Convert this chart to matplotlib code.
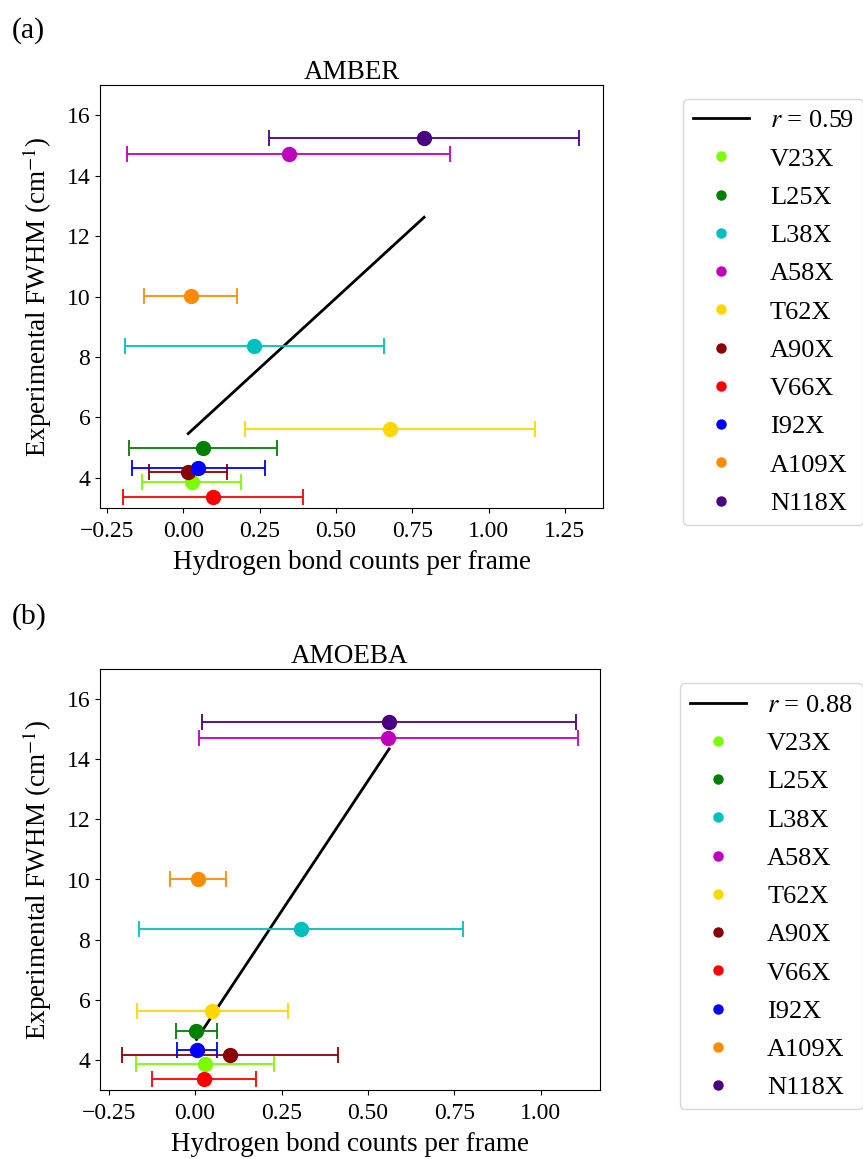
import numpy as np
import matplotlib
matplotlib.use('Agg')
import matplotlib.pyplot as plt
from matplotlib.lines import Line2D

plt.rcParams['font.family'] = ['Liberation Serif', 'DejaVu Serif']
plt.rcParams['mathtext.fontset'] = 'stix'

# Mutants, colours and experimental FWHM (shared by both panels)
mutants = ['V23X', 'L25X', 'L38X', 'A58X', 'T62X', 'A90X', 'V66X', 'I92X', 'A109X', 'N118X']
colors = ['lawngreen', 'green', 'c', 'm', 'gold', 'darkred', 'red', 'blue', 'darkorange', 'indigo']
fwhm = [3.85, 4.97, 8.35, 14.70, 5.62, 4.18, 3.38, 4.33, 10.03, 15.25]

# AMBER hydrogen bond counts per frame (mean, std)
amber_hb = [0.027, 0.064, 0.233, 0.346, 0.678, 0.016, 0.097, 0.049, 0.024, 0.789]
amber_err = [0.161, 0.242, 0.423, 0.529, 0.475, 0.128, 0.295, 0.218, 0.152, 0.507]

# AMOEBA hydrogen bond counts per frame (mean, std)
amoeba_hb = [0.028, 0.004, 0.307, 0.558, 0.050, 0.101, 0.025, 0.005, 0.007, 0.561]
amoeba_err = [0.199, 0.058, 0.469, 0.548, 0.219, 0.311, 0.151, 0.058, 0.081, 0.542]

fig = plt.figure(figsize=(8.63, 11.59), dpi=100)
W, H = 863.0, 1159.0

# axes rectangles from pixel edges
ax_a = fig.add_axes([100 / W, 1 - 508 / H, 503 / W, 423 / H])
ax_b = fig.add_axes([100 / W, 1 - 1090 / H, 500 / W, 421 / H])


def draw_panel(ax, hb, err, title, xlim, xticks, leg_anchor):
    hb = np.array(hb)
    y = np.array(fwhm)
    # least squares line + pearson r
    slope, icpt = np.polyfit(hb, y, 1)
    r = np.corrcoef(hb, y)[0, 1]
    xs = np.array([hb.min(), hb.max()])
    ax.plot(xs, slope * xs + icpt, color='black', lw=2, zorder=3)

    for i in range(len(mutants)):
        ax.errorbar(hb[i], y[i], xerr=err[i], fmt='o', color=colors[i],
                    ms=10, capsize=6, elinewidth=1.3, capthick=1.3, zorder=4)

    ax.set_xlim(*xlim)
    ax.set_ylim(3, 17)
    ax.set_xticks(xticks)
    ax.set_yticks([4, 6, 8, 10, 12, 14, 16])
    ax.tick_params(labelsize=17)
    ax.tick_params(axis='x', pad=6)
    ax.set_title(title, fontsize=19.5, pad=1)
    ax.set_xlabel('Hydrogen bond counts per frame', fontsize=19.5)
    ax.set_ylabel('Experimental FWHM (cm$^{-1}$)', fontsize=19.5)
    ax.xaxis.set_label_coords(0.5, -0.1)
    ax.yaxis.set_label_coords(-46.0 / ax.bbox.width, 0.5)

    handles = [Line2D([], [], color='black', lw=2)]
    handles += [Line2D([], [], color=c, marker='o', ls='none', ms=6.5) for c in colors]
    labels = ['$r$ = %.2f' % r] + mutants
    ax.legend(handles, labels, loc='upper left', bbox_to_anchor=leg_anchor,
              borderaxespad=0, fontsize=19, labelspacing=0.56, handlelength=2.12,
              handletextpad=0.8, borderpad=0.38)


draw_panel(ax_a, amber_hb, amber_err, 'AMBER', (-0.273, 1.375),
           [-0.25, 0, 0.25, 0.5, 0.75, 1.0, 1.25], (1.159, 0.967))
draw_panel(ax_b, amoeba_hb, amoeba_err, 'AMOEBA', (-0.275, 1.171),
           [-0.25, 0, 0.25, 0.5, 0.75, 1.0], (1.16, 0.966))

fig.text(12 / W, 1 - 31 / H, '(a)', fontsize=21.5, va='center')
fig.text(12 / W, 1 - 617 / H, '(b)', fontsize=21.5, va='center')

fig.savefig('out.png', dpi=100)
